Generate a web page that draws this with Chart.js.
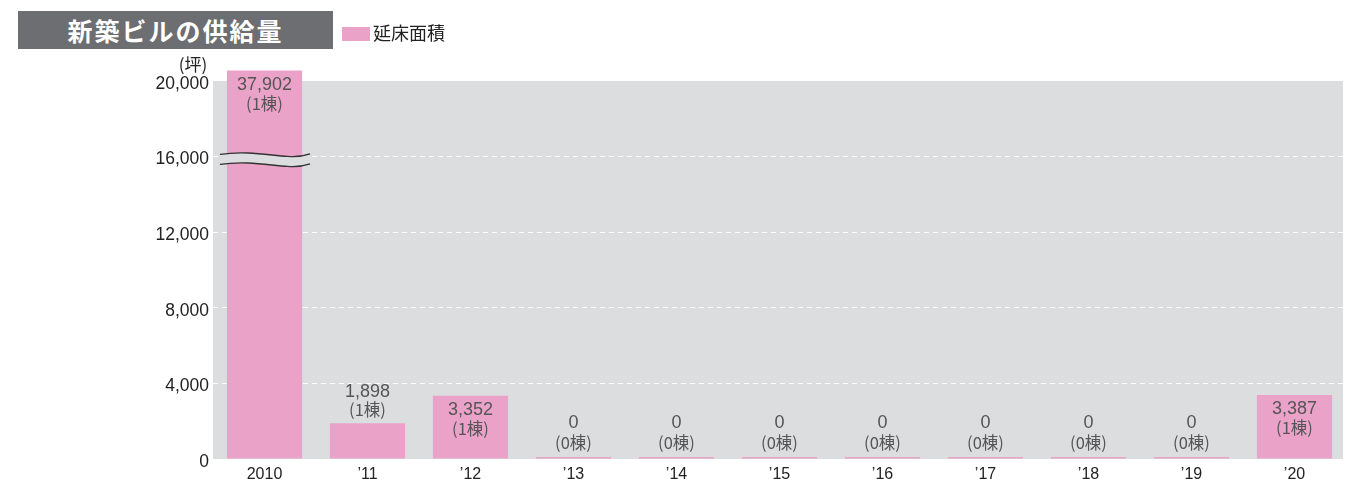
<!DOCTYPE html>
<html>
<head>
<meta charset="utf-8">
<script src="https://cdn.jsdelivr.net/npm/chart.js@4"></script>
<style>
  html, body { margin: 0; padding: 0; background: #fff; overflow: hidden; }
  #wrap { position: relative; width: 1360px; height: 479px; overflow: hidden; }
  #chart { position: absolute; left: 0; top: 0; }
  .title {
    position: absolute; left: 18px; top: 11px; width: 315px; height: 38px;
    background: #6d6e71; color: #fff; font: bold 25px "Noto Sans CJK JP", sans-serif;
    line-height: 38px; text-align: center; letter-spacing: 2px;
  }
  .legend { position: absolute; left: 342px; top: 19px; font: 18px "Noto Sans CJK JP", sans-serif; color: #222; line-height: 26px; }
  .legend i { display: inline-block; width: 28px; height: 14px; background: #eaa2c8; vertical-align: -1px; margin-right: 3px; }
</style>
</head>
<body>
<div id="wrap">
  <canvas id="chart" width="1360" height="500"></canvas>
  <div class="title">新築ビルの供給量</div>
  <div class="legend"><i></i>延床面積</div>
</div>
<script>
const years = ["2010", "’11", "’12", "’13", "’14", "’15", "’16", "’17", "’18", "’19", "’20"];
const floorArea = [37902, 1898, 3352, 0, 0, 0, 0, 0, 0, 0, 3387];
const buildings = [1, 1, 1, 0, 0, 0, 0, 0, 0, 0, 1];
const yTicks = [0, 4000, 8000, 12000, 16000, 20000];

const yMax = 20000;
const breakTop = 20550; // bars taller than the axis are cut and marked with a break
const plotted = floorArea.map(v => Math.min(v, breakTop));

const pink = "#eaa2c8";
const plotGray = "#dcdddf";

const bgPlugin = {
  id: "bg",
  beforeDraw(chart) {
    const a = chart.chartArea, ctx = chart.ctx;
    ctx.save();
    ctx.fillStyle = plotGray;
    ctx.fillRect(a.left, a.top, a.right - a.left - 3, a.bottom - a.top);
    ctx.restore();
  },
  afterDraw(chart) {
    const ctx = chart.ctx, y = chart.scales.y;
    ctx.save();
    ctx.font = '17px "Noto Sans CJK JP", sans-serif';
    ctx.fillStyle = "#222";
    ctx.textAlign = "center";
    ctx.textBaseline = "middle";
    ctx.fillText("(坪)", 193, y.getPixelForValue(yMax) - 16);
    ctx.restore();
  }
};

const labelPlugin = {
  id: "barLabels",
  afterDatasetsDraw(chart) {
    const ctx = chart.ctx, meta = chart.getDatasetMeta(0);
    const y = chart.scales.y;
    ctx.save();
    ctx.textAlign = "center";
    ctx.textBaseline = "middle";
    ctx.fillStyle = "#555";
    meta.data.forEach((bar, i) => {
      const v = floorArea[i];
      const top = y.getPixelForValue(plotted[i]);
      const h = y.getPixelForValue(0) - top;
      let y1, y2;
      if (h > 45) { y1 = top + 14; y2 = top + 33; }
      else if (v === 0) { y1 = top - 36; y2 = top - 16; }
      else { y1 = top - 31; y2 = top - 13; }
      ctx.font = '18px "Liberation Sans", Arial, sans-serif';
      ctx.fillText(v.toLocaleString("en-US"), bar.x, y1);
      ctx.font = '16.5px "Noto Sans CJK JP", sans-serif';
      ctx.fillText("(" + buildings[i] + "棟)", bar.x, y2);
    });

    // axis break on bars taller than the axis
    meta.data.forEach((bar, i) => {
      if (floorArea[i] <= yMax) return;
      const cy = y.getPixelForValue(15850);
      const x0 = bar.x - bar.width / 2 - 7, x1 = bar.x + bar.width / 2 + 8;
      const w = x1 - x0;
      const wave = (dy) => {
        ctx.moveTo(x0, cy + dy);
        ctx.bezierCurveTo(x0 + w * 0.3, cy + dy - 4, x0 + w * 0.55, cy + dy + 1, x0 + w * 0.75, cy + dy + 2);
        ctx.bezierCurveTo(x0 + w * 0.88, cy + dy + 3, x0 + w * 0.95, cy + dy + 1, x1, cy + dy - 0.5);
      };
      ctx.beginPath();
      wave(-5);
      ctx.lineTo(x1, cy + 5 - 0.5);
      ctx.bezierCurveTo(x0 + w * 0.95, cy + 5 + 1, x0 + w * 0.88, cy + 5 + 3, x0 + w * 0.75, cy + 5 + 2);
      ctx.bezierCurveTo(x0 + w * 0.55, cy + 5 + 1, x0 + w * 0.3, cy + 5 - 4, x0, cy + 5);
      ctx.closePath();
      ctx.fillStyle = plotGray;
      ctx.fill();
      ctx.beginPath();
      wave(-5);
      wave(5);
      ctx.strokeStyle = "#333";
      ctx.lineWidth = 1.3;
      ctx.stroke();
    });
    ctx.restore();
  }
};

new Chart(document.getElementById("chart"), {
  type: "bar",
  data: {
    labels: years,
    datasets: [{
      label: "延床面積",
      data: plotted,
      backgroundColor: pink,
      borderWidth: 0,
      minBarLength: 2,
      barPercentage: 0.73,
      categoryPercentage: 1,
      clip: false
    }]
  },
  options: {
    responsive: false,
    animation: false,
    layout: { padding: { left: 0, right: 14, top: 81, bottom: 0 } },
    plugins: { legend: { display: false }, tooltip: { enabled: false } },
    scales: {
      x: {
        afterFit(s) { s.height = 41; },
        grid: { display: false, drawTicks: false },
        border: { display: false },
        ticks: {
          padding: 6,
          color: "#222",
          font: { size: 16, family: '"Liberation Sans", Arial, sans-serif' }
        }
      },
      y: {
        min: 0,
        max: yMax,
        afterFit(s) { s.width = 213; },
        afterBuildTicks(s) { s.ticks = yTicks.map(v => ({ value: v })); },
        border: { display: false, dash: [5, 4] },
        grid: {
          drawTicks: false,
          color: c => (c.tick && c.tick.value > 0 && c.tick.value < yMax) ? "#ffffff" : "rgba(0,0,0,0)",
          lineWidth: 1
        },
        ticks: {
          padding: 4,
          labelOffset: 3,
          color: "#222",
          font: { size: 17.5, family: '"Liberation Sans", Arial, sans-serif' },
          callback: v => v.toLocaleString("en-US")
        }
      }
    }
  },
  plugins: [bgPlugin, labelPlugin]
});
</script>
</body>
</html>
